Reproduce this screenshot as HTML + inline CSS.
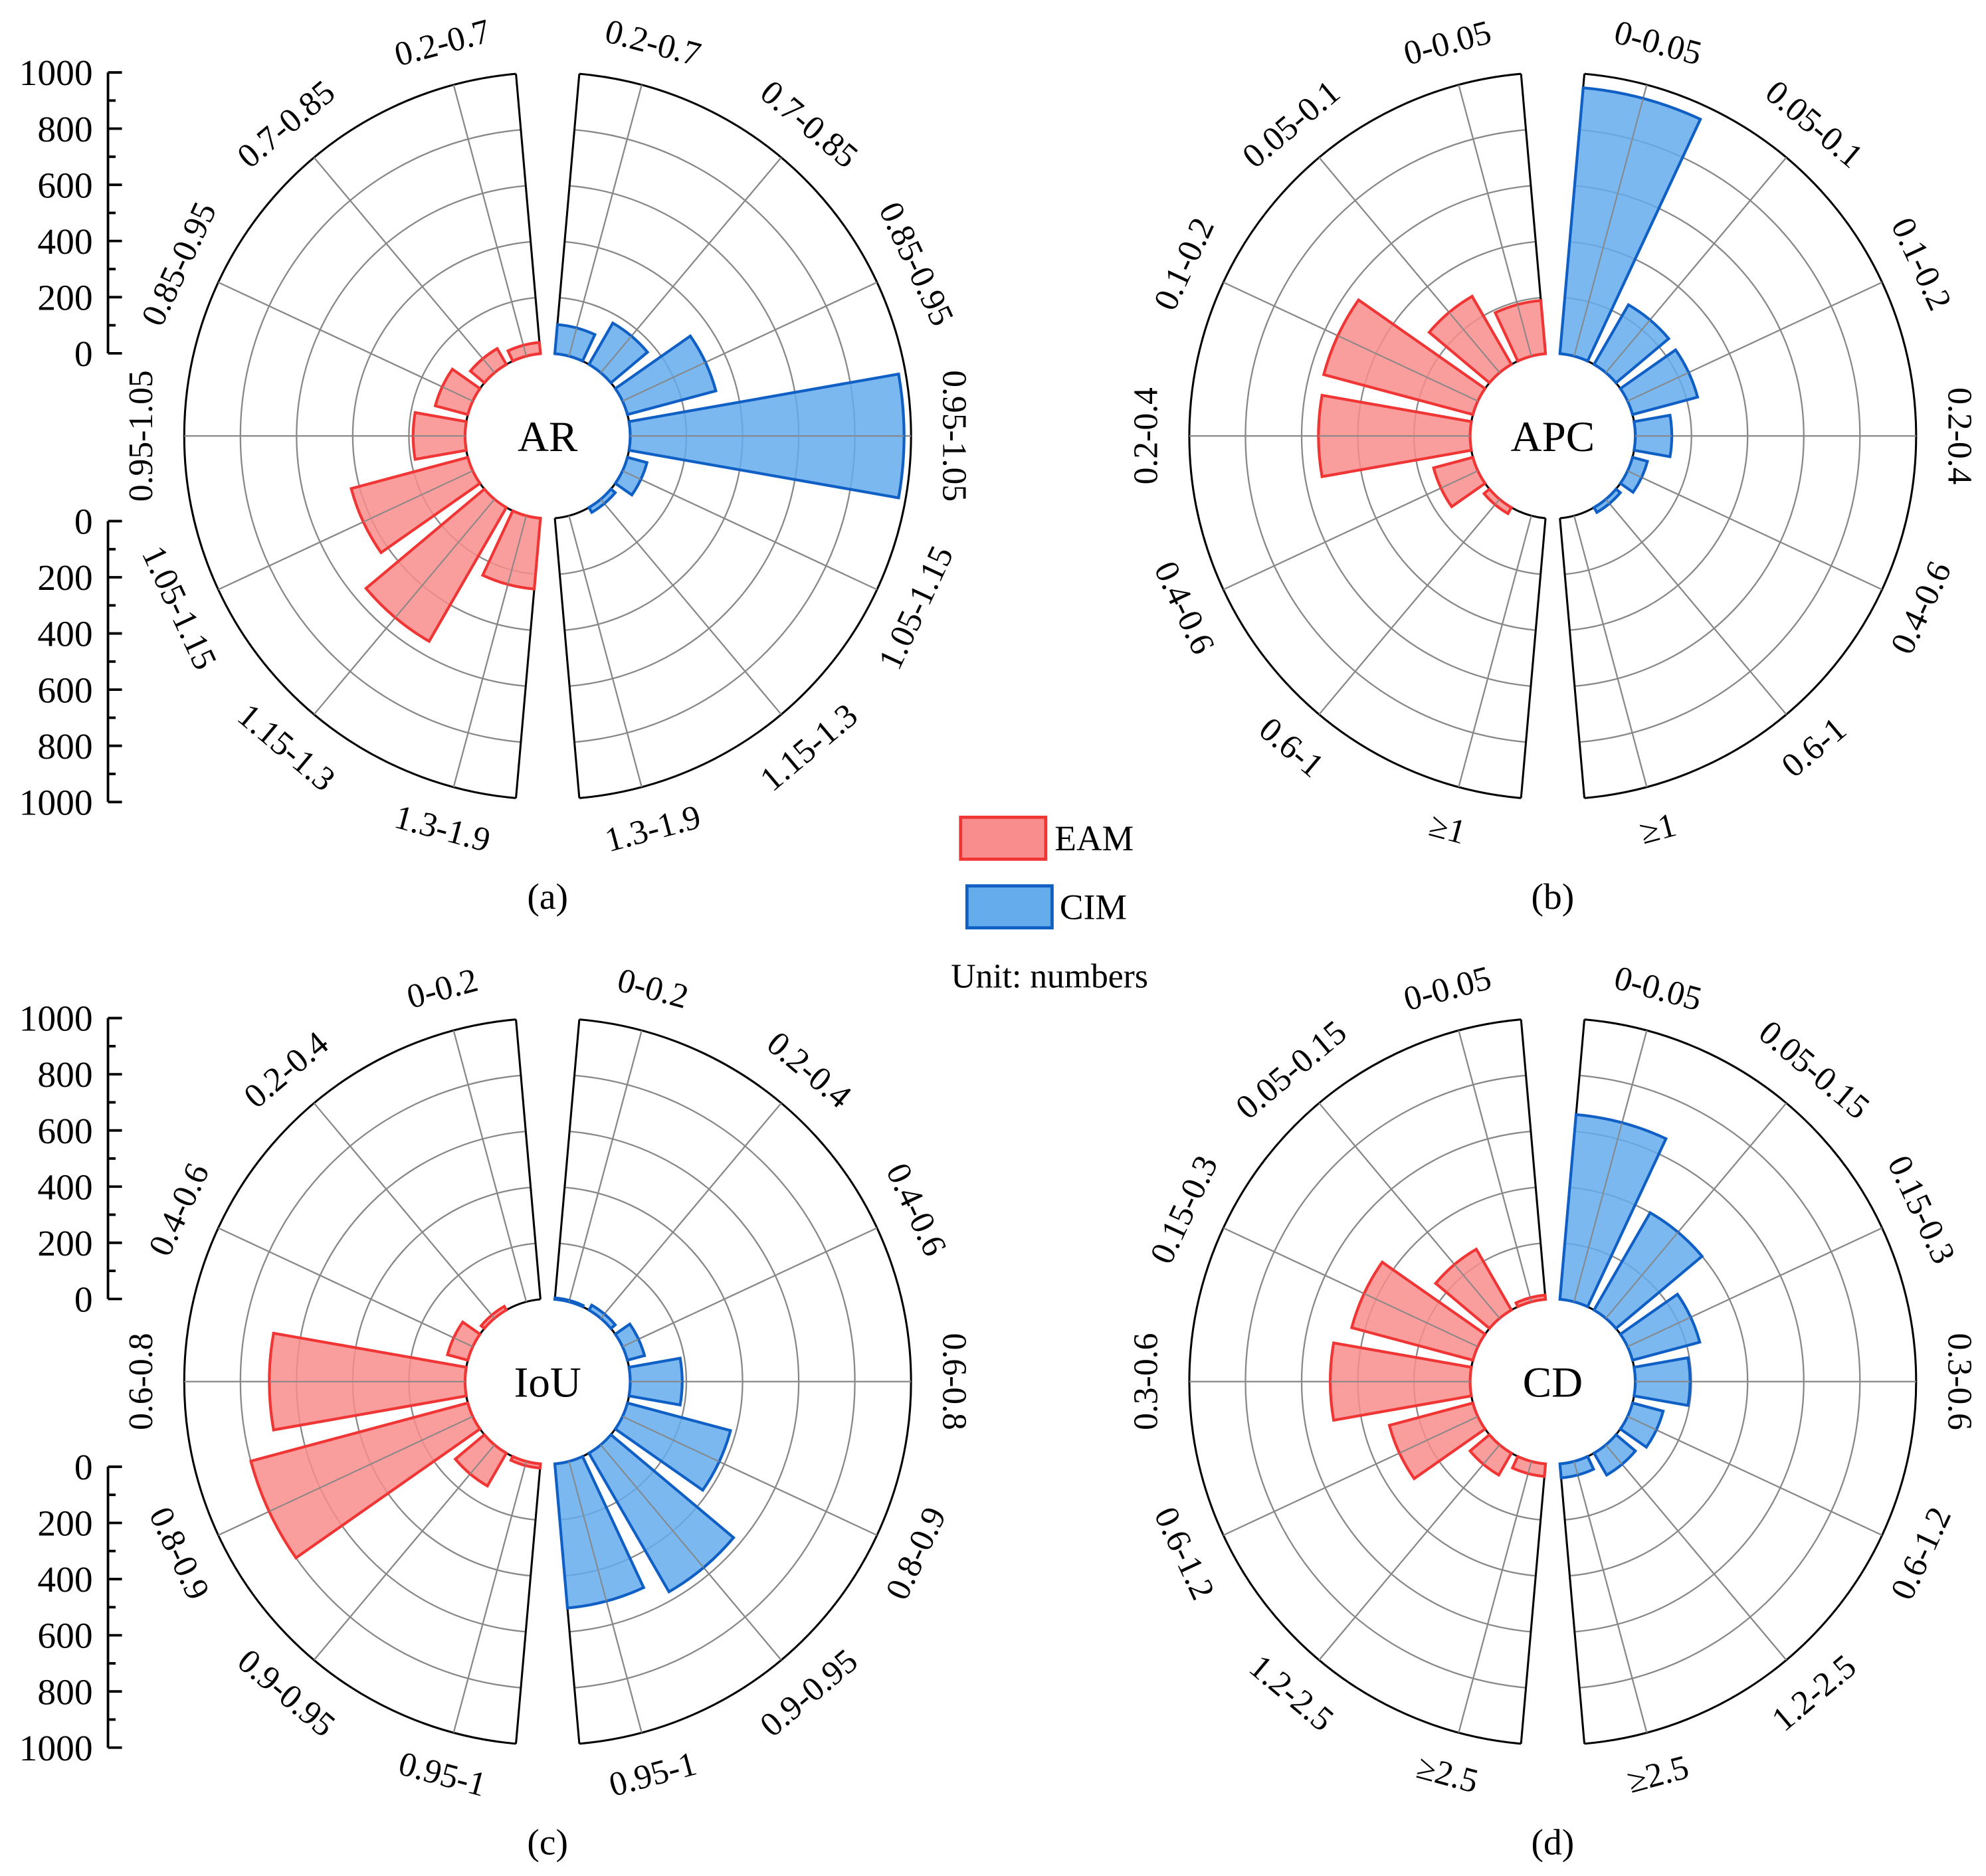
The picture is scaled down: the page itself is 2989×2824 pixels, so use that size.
<!DOCTYPE html>
<html><head><meta charset="utf-8"><style>
html,body{margin:0;padding:0;background:#fff;}
svg{display:block;}
text{font-family:"Liberation Serif",serif;fill:#000;}
</style></head><body>
<svg id="chart" width="2989" height="2824" viewBox="0 0 1563 1476" preserveAspectRatio="none" xmlns="http://www.w3.org/2000/svg">
<rect width="1563" height="1476" fill="#fff"/>
<g id="root"></g>
<g>
  <rect x="756" y="643" width="67" height="33" fill="#f98c8c" stroke="#f03535" stroke-width="2.5"/>
  <text x="830" y="669" font-size="28">EAM</text>
  <rect x="761" y="697" width="67" height="33" fill="#64acec" stroke="#0f5fc5" stroke-width="2.5"/>
  <text x="834" y="723" font-size="28">CIM</text>
  <text x="826" y="777" font-size="27" text-anchor="middle">Unit: numbers</text>
</g>
</svg>
<script>
const catsA = ["0.2-0.7","0.7-0.85","0.85-0.95","0.95-1.05","1.05-1.15","1.15-1.3","1.3-1.9"];
const eamA = [40,65,120,185,430,550,253];
const cimA = [104,170,326,975,72,20,0];
const catsB = ["0-0.05","0.05-0.1","0.1-0.2","0.2-0.4","0.4-0.6","0.6-1","\u22651"];
const eamB = [190,280,550,540,145,25,0];
const cimB = [950,245,240,130,55,20,0];
const catsC = ["0-0.2","0.2-0.4","0.4-0.6","0.6-0.8","0.8-0.9","0.9-0.95","0.95-1"];
const eamC = [0,15,75,697,800,135,15];
const cimC = [5,20,63,185,380,570,515];
const catsD = ["0-0.05","0.05-0.15","0.15-0.3","0.3-0.6","0.6-1.2","1.2-2.5","\u22652.5"];
const eamD = [15,250,447,498,308,90,45];
const cimD = [660,400,248,195,113,90,50];
const gridVals = [200,400,600,800,1000];
const axisTicks = [0,200,400,600,800,1000];

const NS="http://www.w3.org/2000/svg";
const root=document.getElementById('root');
const R0=65, SC=0.221, HW=10;
function rad(v){return R0+v*SC;}
function ang(i){return 15+25*i;}
function pt(cx,cy,r,th,side){const t=th*Math.PI/180;return [cx+side*r*Math.sin(t), cy-r*Math.cos(t)];}
function mk(tag,attrs,parent){const e=document.createElementNS(NS,tag);for(const k in attrs)e.setAttribute(k,attrs[k]);(parent||root).appendChild(e);return e;}
function arcPath(cx,cy,r1,r2,a1,a2,side){
  const p1=pt(cx,cy,r1,a1,side),p2=pt(cx,cy,r2,a1,side),p3=pt(cx,cy,r2,a2,side),p4=pt(cx,cy,r1,a2,side);
  const sw=side>0?1:0, sw2=side>0?0:1;
  return `M${p1[0]},${p1[1]}L${p2[0]},${p2[1]}A${r2},${r2} 0 0 ${sw} ${p3[0]},${p3[1]}L${p4[0]},${p4[1]}A${r1},${r1} 0 0 ${sw2} ${p1[0]},${p1[1]}Z`;
}
function ring(cx,cy,r,side){return 'M'+pt(cx,cy,r,5,side).join(',')+'A'+r+','+r+' 0 0 '+(side>0?1:0)+' '+pt(cx,cy,r,175,side).join(',');}
function panel(cx,cy,cats,eam,cim,title,letter,key){
  const g=mk('g',{});
  
  
  [[-1,eam,'#f98c8c','#f03535','eam'],[1,cim,'#64acec','#0f5fc5','cim']].forEach(([side,vals,fill,stroke,nm])=>{
    const half=mk('g',{},g);
    
    
    gridVals.forEach(v=>{
      const c=mk('path',{d:ring(cx,cy,rad(v),side),fill:'none',stroke:v===1000?'#000':'#888','stroke-width':v===1000?1.6:1.2},half);
      
      
    });
    const inner=mk('path',{d:ring(cx,cy,R0,side),fill:'none',stroke:'#000','stroke-width':1.6},half);
    
    
    [5,175].forEach(a=>{const p=pt(cx,cy,R0,a,side),q=pt(cx,cy,rad(1000),a,side);
      const l=mk('line',{x1:p[0],y1:p[1],x2:q[0],y2:q[1],stroke:'#000','stroke-width':1.6},half);
      
      });
    cats.forEach((c,i)=>{const a=ang(i);const p=pt(cx,cy,R0,a,side),q=pt(cx,cy,rad(1000),a,side);
      const l=mk('line',{x1:p[0],y1:p[1],x2:q[0],y2:q[1],stroke:'#888','stroke-width':1.2},half);
      
      });
    vals.forEach((v,i)=>{ if(v<=0) return; const a=ang(i);
      const b=mk('path',{d:arcPath(cx,cy,R0,rad(v),a-HW,a+HW,side),fill:fill,stroke:stroke,'stroke-width':2.2,'fill-opacity':0.85},half);
      
      
      const p=pt(cx,cy,R0,a,side),q=pt(cx,cy,rad(v),a,side);
      const l=mk('line',{x1:p[0],y1:p[1],x2:q[0],y2:q[1],stroke:'#888','stroke-width':1},half);
      
      });
    cats.forEach((c,i)=>{const a=ang(i);const p=pt(cx,cy,320,a,side);
      let rot = side<0 ? (a<=90? -a : 180-a) : (a<=90? a : a-180);
      const t=mk('text',{x:p[0],y:p[1],'font-size':27,'text-anchor':'middle','dominant-baseline':'central',transform:`rotate(${rot} ${p[0]} ${p[1]})`},half);
      t.textContent=c;
      
      });
  });
  const t=mk('text',{x:cx,y:cy+12,'font-size':34,'text-anchor':'middle'},g);t.textContent=title;
  
  
  const l=mk('text',{x:cx,y:cy+372,'font-size':29,'text-anchor':'middle'},g);l.textContent=letter;
  
  
}
function axis(x,y0,dir,key){
  const g=mk('g',{});
  
  
  const yv=v=>y0+dir*v*SC;
  mk('line',{x1:x,y1:yv(0),x2:x,y2:yv(1000),stroke:'#000','stroke-width':2},g);
  for(let v=0;v<=1000;v+=100){const major=v%200===0;
    mk('line',{x1:x,y1:yv(v),x2:x+(major?11:6),y2:yv(v),stroke:'#000','stroke-width':2},g);}
  axisTicks.forEach(v=>{const t=mk('text',{x:x-12,y:yv(v)+10,'font-size':29,'text-anchor':'end'},g);t.textContent=v;
    
    });
}
panel(431,343,catsA,eamA,cimA,'AR','(a)','a');
panel(1222,343,catsB,eamB,cimB,'APC','(b)','b');
panel(431,1087,catsC,eamC,cimC,'IoU','(c)','c');
panel(1222,1087,catsD,eamD,cimD,'CD','(d)','d');
axis(85,278,-1,'a-top');
axis(85,410,1,'a-bottom');
axis(85,1022,-1,'c-top');
axis(85,1154,1,'c-bottom');
</script>
</body></html>
